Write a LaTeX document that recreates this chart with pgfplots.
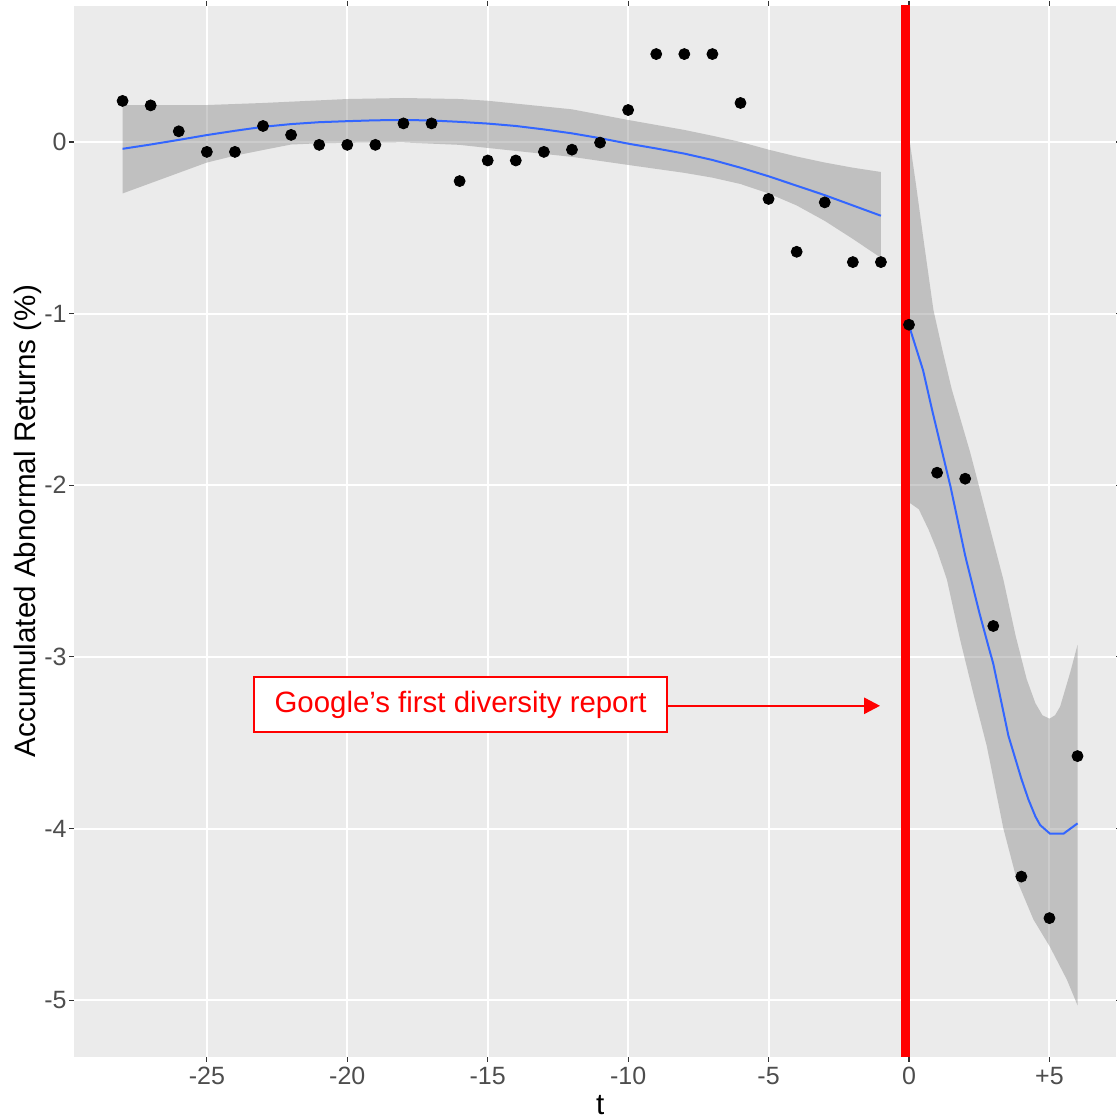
\documentclass[border=0pt]{standalone}
\usepackage{fontspec}
\setmainfont{Liberation Sans}
\usepackage{pgfplots}
\usepackage{pgfplotstable}
\pgfplotsset{compat=1.18}
\usepgfplotslibrary{fillbetween}
\usetikzlibrary{arrows.meta}
\definecolor{panel}{HTML}{EBEBEB}
\definecolor{tickc}{HTML}{333333}
\definecolor{labc}{HTML}{4D4D4D}
\definecolor{smoothc}{HTML}{3366FF}

\pgfplotstableread{
x y
-28 0.239
-27 0.213
-26 0.062
-25 -0.058
-24 -0.058
-23 0.093
-22 0.041
-21 -0.017
-20 -0.017
-19 -0.017
-18 0.108
-17 0.108
-16 -0.228
-15 -0.108
-14 -0.108
-13 -0.058
-12 -0.045
-11 -0.004
-10 0.186
-9 0.512
-8 0.512
-7 0.512
-6 0.227
-5 -0.332
-4 -0.640
-3 -0.352
-2 -0.700
-1 -0.700
0 -1.065
1 -1.927
2 -1.962
3 -2.820
4 -4.280
5 -4.522
6 -3.578
}\points

\pgfplotstableread{
x y
-28 -0.040
-27 -0.015
-26 0.012
-25 0.040
-24 0.065
-23 0.088
-22 0.104
-21 0.115
-20 0.121
-19 0.126
-18 0.128
-17 0.125
-16 0.117
-15 0.107
-14 0.093
-13 0.073
-12 0.050
-11 0.022
-10 -0.010
-9 -0.038
-8 -0.068
-7 -0.105
-6 -0.150
-5 -0.200
-4 -0.255
-3 -0.310
-2 -0.370
-1 -0.430
}\lineA

\pgfplotstableread{
x y
-28 0.215
-26 0.215
-25 0.215
-23 0.227
-20 0.250
-18 0.256
-16 0.250
-15 0.240
-12 0.190
-10 0.128
-8 0.070
-7 0.036
-6 0.000
-5 -0.045
-4 -0.085
-3 -0.120
-2 -0.150
-1 -0.175
}\upA

\pgfplotstableread{
x y
-28 -0.300
-27 -0.240
-26 -0.180
-25 -0.120
-24 -0.080
-23 -0.047
-22 -0.015
-21 -0.008
-20 -0.005
-18 -0.003
-16 -0.017
-15 -0.035
-12 -0.087
-10 -0.134
-8 -0.180
-7 -0.208
-6 -0.245
-5 -0.300
-4 -0.370
-3 -0.460
-2 -0.565
-1 -0.675
}\loA

\pgfplotstableread{
x y
0 -1.07
0.5 -1.33
0.82 -1.56
1.48 -2.01
2.0 -2.41
2.5 -2.74
2.83 -2.94
3.0 -3.04
3.54 -3.46
4.0 -3.71
4.25 -3.83
4.5 -3.93
4.67 -3.98
5.02 -4.03
5.5 -4.03
6.0 -3.97
}\lineB

\pgfplotstableread{
x y
0 0.03
0.25 -0.25
0.5 -0.55
0.87 -0.98
1.2 -1.22
1.52 -1.44
2.18 -1.81
2.77 -2.18
3.36 -2.55
3.8 -2.88
4.19 -3.13
4.5 -3.27
4.75 -3.34
5.0 -3.36
5.2 -3.34
5.38 -3.29
5.74 -3.09
6.0 -2.93
}\upB

\pgfplotstableread{
x y
0 -2.10
0.35 -2.14
0.7 -2.26
1.0 -2.38
1.35 -2.55
1.82 -2.90
2.3 -3.22
2.77 -3.52
3.36 -4.00
3.84 -4.30
4.43 -4.53
5.02 -4.69
5.62 -4.88
6.0 -5.03
}\loB

\begin{document}
\begin{tikzpicture}
\begin{axis}[
  at={(0,0)}, anchor=south west,
  scale only axis, width=521pt, height=525.5pt,
  xmin=-29.73, xmax=7.37, ymin=-5.331, ymax=0.792,
  axis background/.style={fill=panel},
  axis line style={draw=none},
  grid=major, major grid style={white, line width=1pt},
  xtick={-25,-20,-15,-10,-5,0,5},
  xticklabels={-25,-20,-15,-10,-5,0,+5},
  ytick={-5,-4,-3,-2,-1,0},
  yticklabels={-5,-4,-3,-2,-1,0},
  tick align=outside, major tick length=2.5pt,
  tick style={tickc, line width=0.6pt},
  tick label style={font=\fontsize{12.5}{15}\selectfont, text=labc, inner sep=0pt},
  xticklabel style={anchor=north, yshift=-2.5pt},
  yticklabel style={anchor=east, xshift=-1pt},
  xlabel={t},
  ylabel={Accumulated Abnormal Returns (\%)},
  label style={font=\fontsize{14.8}{17}\selectfont, inner sep=0pt},
  xlabel style={at={(axis description cs:0.505,-0.0457)}, anchor=center},
  ylabel style={at={(axis description cs:-0.0441,0.51)}, anchor=center},
  clip=true,
]
\addplot[draw=none, name path=uA, forget plot] table {\upA};
\addplot[draw=none, name path=lA, forget plot] table {\loA};
\addplot[fill=gray, fill opacity=0.4, draw=none] fill between[of=uA and lA];
\addplot[draw=none, name path=uB, forget plot] table {\upB};
\addplot[draw=none, name path=lB, forget plot] table {\loB};
\addplot[fill=gray, fill opacity=0.4, draw=none] fill between[of=uB and lB];
\addplot[smoothc, line width=1pt, no marks] table {\lineA};
\addplot[smoothc, line width=1pt, no marks] table {\lineB};
\addplot[red, line width=4.5pt, no marks] coordinates {(-0.12,-5.5) (-0.12,1)};
\addplot[only marks, mark=*, mark size=2.75pt, black] table {\points};
\draw[red, line width=1.3pt, -{Triangle[length=8pt,width=8pt]}] (axis cs:-8.61,-3.285) -- (axis cs:-1.03,-3.285);
\node[draw=red, fill=white, line width=1pt, text=red, font=\fontsize{14.7}{17}\selectfont,
      minimum width=206.5pt, minimum height=27.5pt, inner sep=0pt]
      at (axis cs:-15.965,-3.277) {Google’s first diversity report};
\end{axis}
\pgfresetboundingbox
\path (-37pt,-30.5pt) rectangle (521pt,528.5pt);
\end{tikzpicture}
\end{document}
